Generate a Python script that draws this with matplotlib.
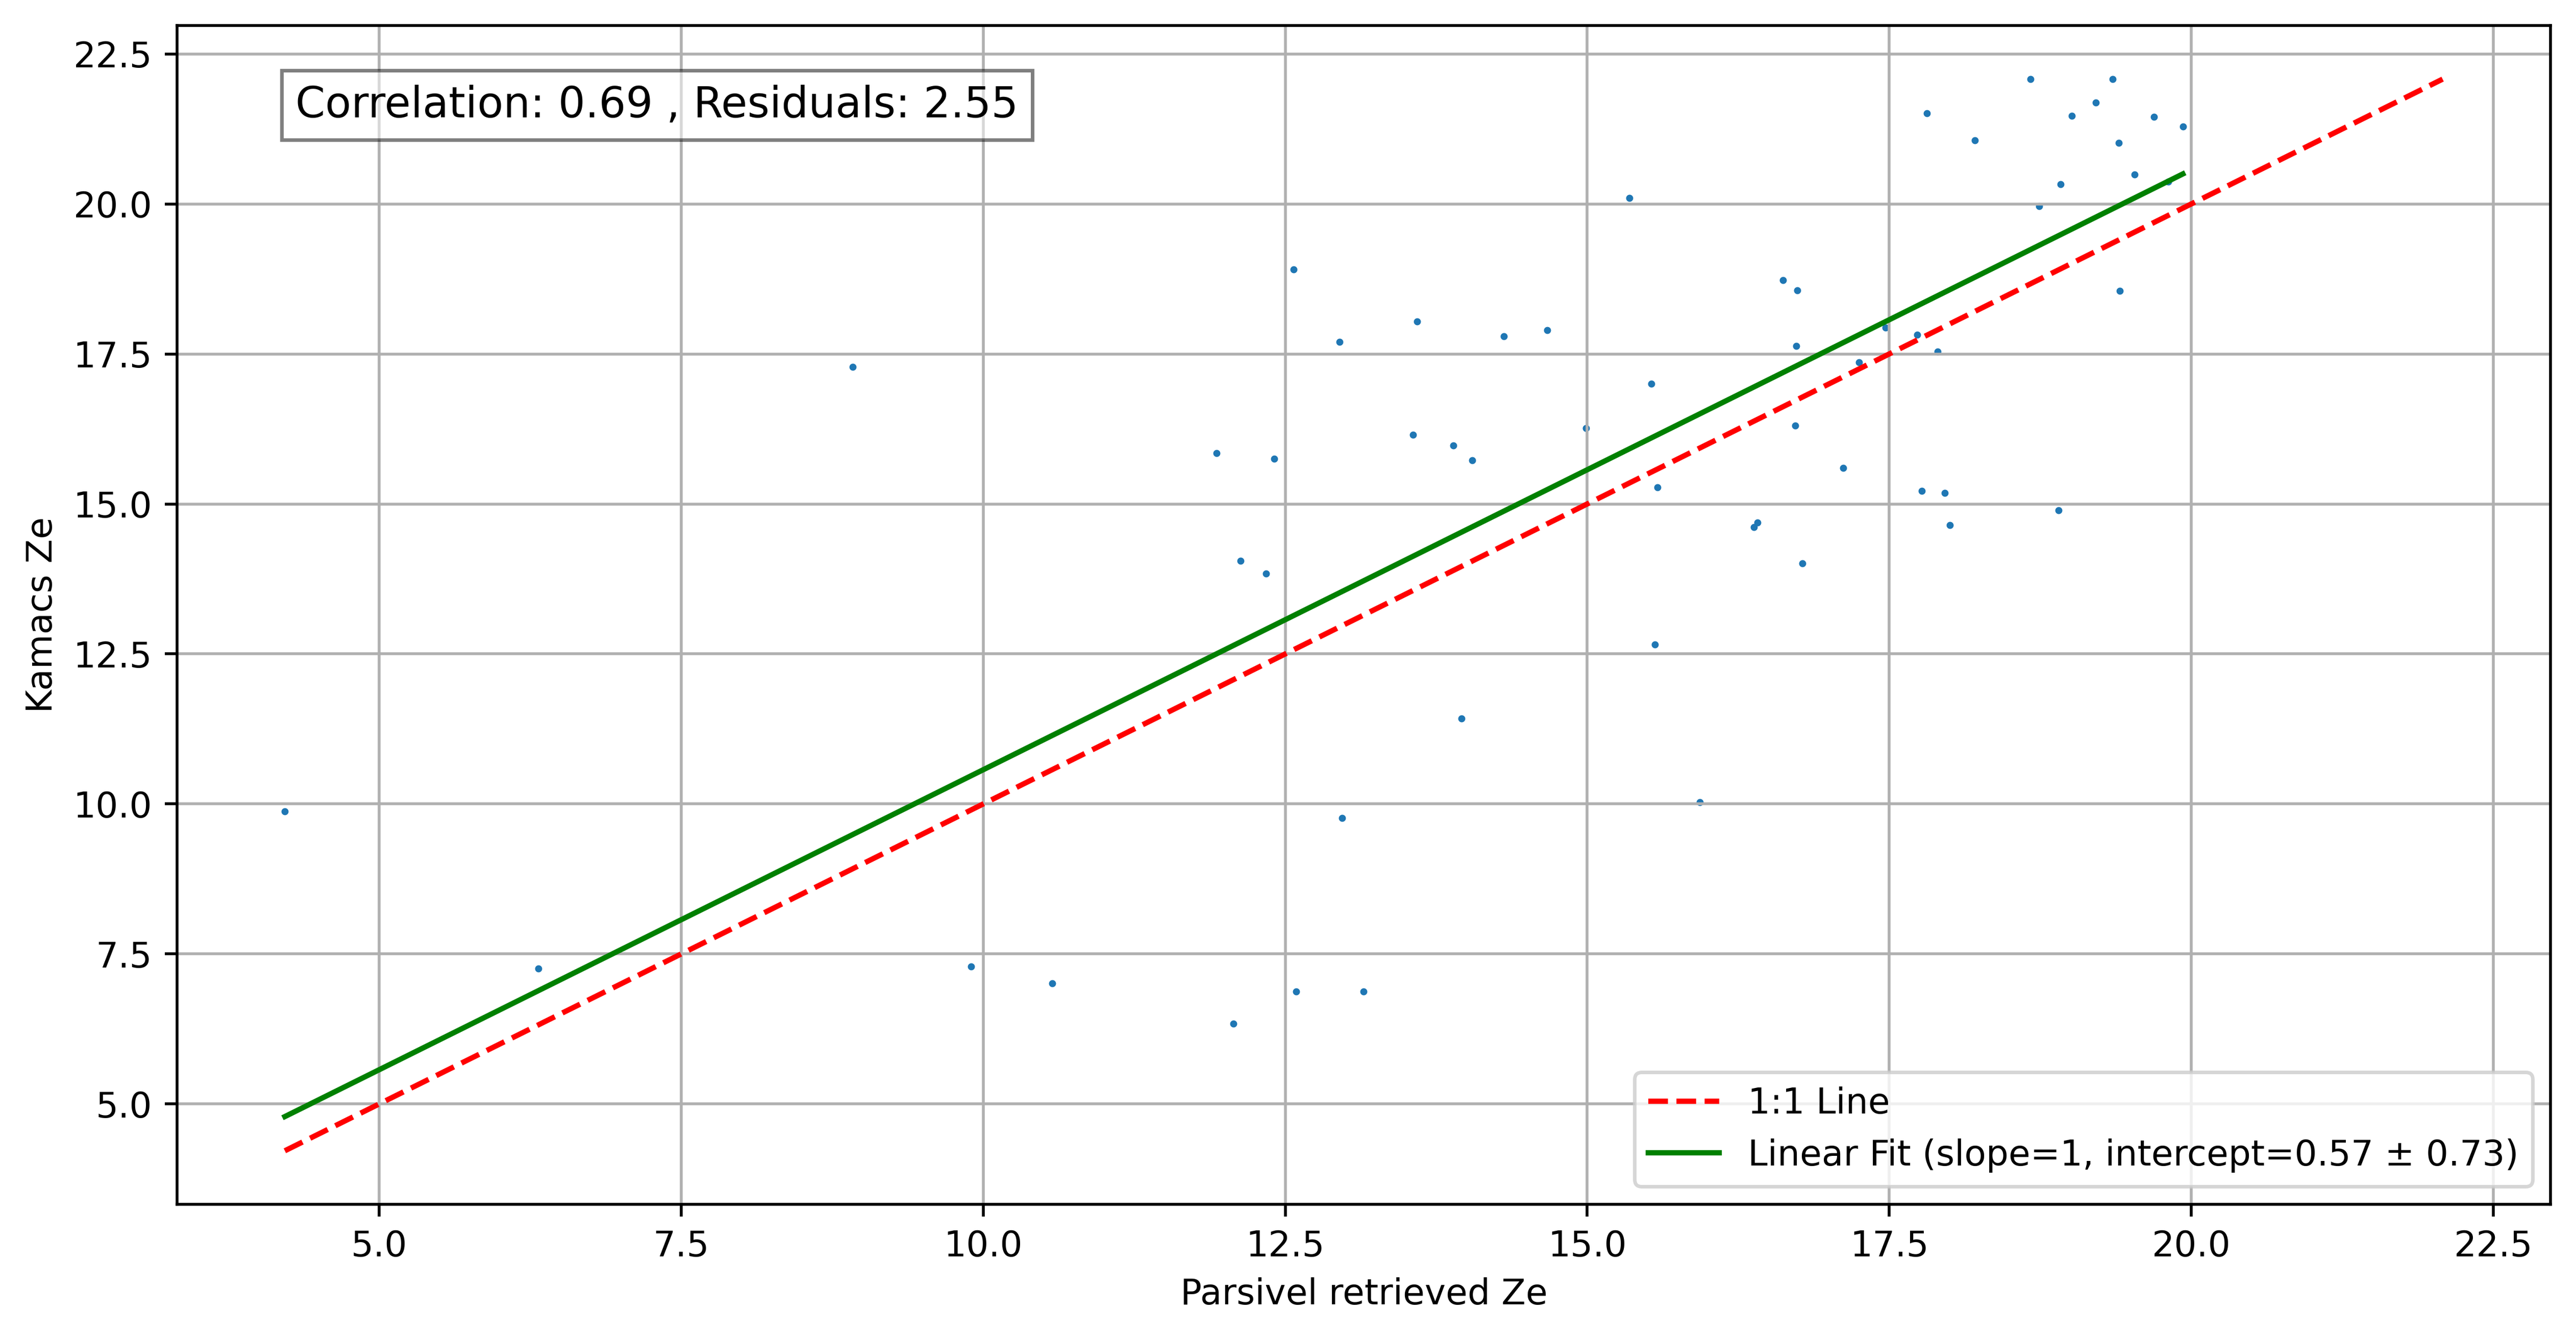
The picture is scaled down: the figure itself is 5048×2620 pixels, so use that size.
import numpy as np
import matplotlib
matplotlib.use("Agg")
import matplotlib.pyplot as plt

# -----------------------
# Data
# -----------------------

parsivel_ze = np.array([
    4.22, 6.32, 8.92, 9.90, 10.57, 11.93, 12.07, 12.13, 12.34, 12.41,
    12.57, 12.59, 12.95, 12.97, 13.15, 13.56, 13.59, 13.89, 13.96, 14.05,
    14.31, 14.67, 14.99, 15.35, 15.53, 15.56, 15.58, 15.93, 16.38, 16.41,
    16.62, 16.74, 16.72, 16.73, 16.78, 17.12, 17.25, 17.47, 17.73, 17.77,
    17.81, 17.90, 17.96, 18.00, 18.21, 18.67, 18.74, 18.90, 18.92, 19.01,
    19.21, 19.35, 19.40, 19.41, 19.53, 19.69, 19.81, 19.93,
])

kamacs_ze = np.array([
    9.88, 7.26, 17.28, 7.29, 7.01, 15.85, 6.34, 14.05, 13.84, 15.75,
    18.91, 6.87, 17.70, 9.77, 6.87, 16.15, 18.04, 15.97, 11.42, 15.73,
    17.79, 17.90, 16.26, 20.10, 17.00, 12.66, 15.28, 10.03, 14.61, 14.69,
    18.73, 18.56, 16.31, 17.63, 14.01, 15.60, 17.36, 17.94, 17.82, 15.22,
    21.51, 17.54, 15.18, 14.65, 21.06, 22.08, 19.96, 14.89, 20.33, 21.47,
    21.69, 22.08, 21.02, 18.55, 20.49, 21.45, 20.37, 21.29,
])

slope = 1
intercept = 0.57
intercept_err = 0.73
correlation = 0.69
residuals = 2.55

# -----------------------
# Plot
# -----------------------

fig = plt.figure(figsize=(5048 / 500, 2620 / 500), dpi=500)
ax = fig.add_axes([0.0687, 0.0992, 0.9214, 0.8817])

ax.scatter(parsivel_ze, kamacs_ze, s=1)

lo = min(parsivel_ze.min(), kamacs_ze.min())
hi = max(parsivel_ze.max(), kamacs_ze.max())
ax.plot([lo, hi], [lo, hi], 'r--', label='1:1 Line')

x_fit = np.array([parsivel_ze.min(), parsivel_ze.max()])
ax.plot(x_fit, slope * x_fit + intercept, 'g-',
        label=f'Linear Fit (slope={slope}, intercept={intercept:.2f} \u00b1 {intercept_err:.2f})')

ax.set_xlabel('Parsivel retrieved Ze')
ax.set_ylabel('Kamacs Ze')
ax.text(0.05, 0.95, f'Correlation: {correlation:.2f} , Residuals: {residuals:.2f}',
        transform=ax.transAxes, fontsize=12, verticalalignment='top',
        bbox=dict(facecolor='white', alpha=0.5))
ax.legend(loc='lower right')
ax.grid(True)

fig.savefig('out.png', dpi=500)
